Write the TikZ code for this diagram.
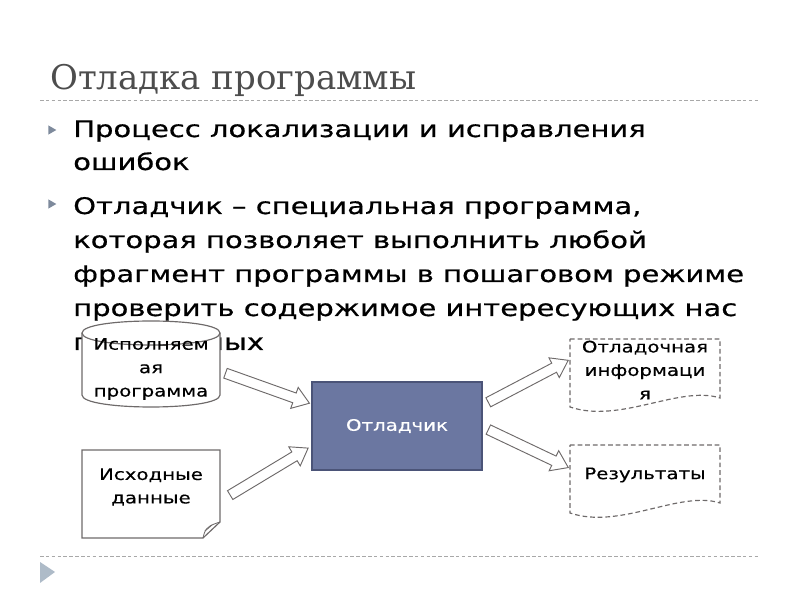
\documentclass[tikz,border=0pt]{standalone}
\usepackage{fontspec}
\setmainfont{DejaVu Sans}[FakeStretch=1.27, FakeBold=0.6]
\newfontfamily\titlefont{DejaVu Serif}
\newfontfamily\diagfont{DejaVu Sans}[FakeStretch=1.25, FakeBold=0.4]
\usetikzlibrary{shapes.arrows,shapes.geometric,calc}

\definecolor{titlegray}{HTML}{4D4D4D}
\definecolor{rulegray}{HTML}{A8A8A8}
\definecolor{bulletgray}{HTML}{7E8A9C}
\definecolor{linegray}{HTML}{6E6A6A}
\definecolor{boxfill}{HTML}{6B77A1}
\definecolor{boxedge}{HTML}{4B5478}
\definecolor{navgray}{HTML}{AEBBC8}

\tikzset{
  rule/.style={rulegray, dashed, dash pattern=on 3pt off 2pt, line width=0.6pt},
  bulletmark/.style={isosceles triangle, isosceles triangle apex angle=60,
    fill=bulletgray, inner sep=0pt, minimum height=0.24cm, minimum width=0.27cm},
  bodytext/.style={anchor=base west, inner sep=0pt, font=\fontsize{19.5}{23}\selectfont},
  shapeline/.style={draw=linegray, line width=1pt},
  docline/.style={draw=linegray, line width=1pt, dashed, dash pattern=on 4pt off 2.5pt},
  smalltext/.style={align=center, font=\diagfont\fontsize{13.5}{20}\selectfont, inner sep=0pt},
  flowarrow/.style={single arrow, draw=linegray, line width=0.8pt, fill=white,
    inner xsep=0pt, inner ysep=0.14cm, single arrow head extend=0.18cm,
    single arrow tip angle=70, anchor=center}
}

% block arrow between two named coordinates
\newcommand{\blockarrow}[2]{%
  \path let \p1=($(#2)-(#1)$), \n1={atan2(\y1,\x1)}, \n2={veclen(\x1,\y1)} in
    node[flowarrow, rotate=\n1, minimum height=\n2] at ($(#1)!0.5!(#2)$) {};
}

\begin{document}
\begin{tikzpicture}[x=0.03cm, y=-0.03cm]
  \useasboundingbox (0,0) rectangle (800,600);

  % title and rules
  \node[anchor=base west, inner sep=0pt, text=titlegray,
    font=\titlefont\fontsize{29}{34}\selectfont] (title) at (50,90) {Отладка программы};
  \draw[rule] (40,100) -- (760,100);
  \draw[rule] (40,556) -- (760,556);
  \fill[navgray] (40,562) -- (55,572) -- (40,583) -- cycle;

  % bullets
  \node[bulletmark] (b1) at (51,130) {};
  \node[bulletmark] (b2) at (51,204) {};
  \node[bodytext] (l1) at (73,137) {Процесс локализации и исправления};
  \node[bodytext] (l2) at (73,170) {ошибок};
  \foreach \txt [count=\i] in {{Отладчик – специальная программа,},
      {которая позволяет выполнить любой},
      {фрагмент программы в пошаговом режиме},
      {проверить содержимое интересующих нас},
      {переменных}} {
    \node[bodytext] (m\i) at (73,{214+34*(\i-1)}) {\txt};
  }

  % executable program (cylinder)
  \filldraw[shapeline, fill=white] (82,333) .. controls (82,317) and (220,317) .. (220,333)
    -- (220,395) .. controls (220,411) and (82,411) .. (82,395) -- cycle;
  \draw[shapeline] (82,333) .. controls (82,349) and (220,349) .. (220,333);
  \node[smalltext] (prog) at (151,369) {Исполняем\\ая\\программа};

  % input data (sheet with folded corner)
  \filldraw[shapeline, fill=white] (82,450) -- (220,450) -- (220,522) -- (203,538)
    -- (82,538) -- cycle;
  \draw[shapeline, line width=0.7pt] (203,538) .. controls (205,530) .. (210,526)
    .. controls (214,524) .. (220,522);
  \draw[shapeline, line width=0.7pt] (205,531) -- (212,525);
  \node[smalltext] (data) at (151,487) {Исходные\\данные};

  % debugger
  \node[fill=boxfill, draw=boxedge, line width=1pt, minimum width=5.1cm,
    minimum height=2.64cm, text=white, font=\diagfont\fontsize{13.5}{16}\selectfont]
    (dbg) at (397,426) {Отладчик};

  % outputs (documents)
  \draw[docline] (570,339) -- (720,339) -- (720,398)
    .. controls (680,385) and (620,424) .. (570,407) -- cycle;
  \node[smalltext] (info) at (645,370) {Отладочная\\информаци\\я};
  \draw[docline] (570,445) -- (720,445) -- (720,503)
    .. controls (680,490) and (620,530) .. (570,513) -- cycle;
  \node[smalltext] (res) at (645,475) {Результаты};

  % arrows
  \coordinate (p1) at (222,372);  \coordinate (q1) at (306,402);
  \coordinate (p2) at (227,497);  \coordinate (q2) at (305,450);
  \coordinate (p3) at (485,404);  \coordinate (q3) at (565,362);
  \coordinate (p4) at (485,428);  \coordinate (q4) at (565,466);
  \blockarrow{p1}{q1}
  \blockarrow{p2}{q2}
  \blockarrow{p3}{q3}
  \blockarrow{p4}{q4}
\end{tikzpicture}
\end{document}
